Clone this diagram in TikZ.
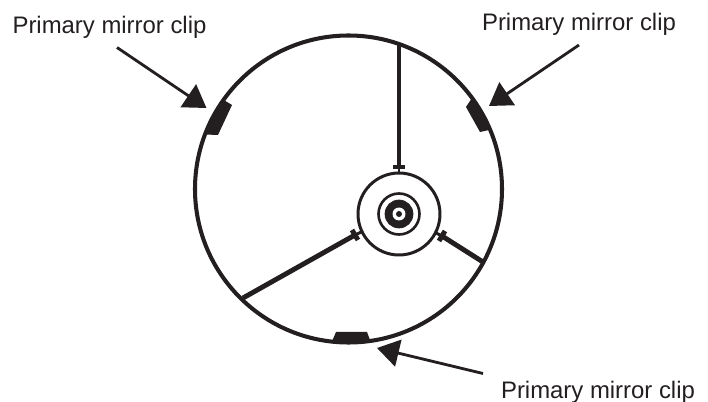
\documentclass[tikz,border=0pt]{standalone}
\usepackage{fontspec}
\setmainfont{Liberation Sans}
\usepackage{xcolor}
\usetikzlibrary{calc, positioning}
\usetikzlibrary{arrows.meta}
\definecolor{inkblack}{HTML}{231F20}
\begin{document}
\begin{tikzpicture}[x=0.02cm,y=-0.02cm,
  rimline/.style={line width=2.3pt, draw=inkblack},
  spokeline/.style={line width=2.8pt, draw=inkblack},
  neckline/.style={line width=1.7pt, draw=inkblack},
  tickline/.style={line width=2.8pt, draw=inkblack},
  clipfill/.style={fill=inkblack},
  cliplabel/.style={anchor=base, font=\fontsize{13.6pt}{16pt}\selectfont, text=inkblack, inner sep=0pt},
  cliparrow/.style={line width=1.6pt, draw=inkblack, -{Triangle[length=12.5pt,width=15.5pt,fill=inkblack]}},
  hubdisc/.style={circle, draw=inkblack, inner sep=0pt, outer sep=0pt}]
\def\rimR{153.5}
\useasboundingbox (0,0) rectangle (708,402);

\coordinate (rimc) at (348.5,189);
\coordinate (hubc) at (399,214);

% Mirror rim
\draw[rimline] (rimc) circle[radius=\rimR];

% Three clips on the rim
\fill[clipfill] ([shift={(rimc)}]215.5:\rimR) arc[start angle=215.5,end angle=200.8,radius=\rimR]
  -- (218,135) -- (232,105) -- cycle;
\fill[clipfill] ([shift={(rimc)}]-36.4:\rimR) arc[start angle=-36.4,end angle=-22.7,radius=\rimR]
  -- (480,132) -- (466,107) -- cycle;
\fill[clipfill] ([shift={(rimc)}]81.8:\rimR) arc[start angle=81.8,end angle=96.2,radius=\rimR]
  -- (336,332) -- (367,332) -- cycle;

% Hub
\node[hubdisc, line width=1.7pt, fill=white, minimum size=1.64cm] (hub) at (hubc) {};
\node[hubdisc, line width=1.5pt, minimum size=0.82cm] (hubring) at (hubc) {};
\node[hubdisc, fill=inkblack, minimum size=0.56cm] (hubdark) at (hubc) {};
\node[hubdisc, draw=none, fill=white, minimum size=0.26cm] (hubhole) at (hubc) {};
\node[hubdisc, draw=none, fill=inkblack, minimum size=0.12cm] (hubdot) at (hubc) {};

% Spokes
\coordinate (tipT) at (399,167);
\coordinate (tipR) at (442,236);
\coordinate (tipL) at (355,235);
\coordinate (endT) at (399,43);
\coordinate (endR) at (483,262);
\coordinate (endL) at (243,298);
\draw[spokeline] (endT) -- (tipT);
\draw[spokeline] (endR) -- (tipR);
\draw[spokeline] (endL) -- (tipL);
\draw[neckline] (tipT) -- (hub);
\draw[neckline] (tipR) -- (hub);
\draw[neckline] (tipL) -- (hub);
\draw[tickline] (393,167) -- (405,167);
\draw[tickline] (439,241) -- (445,231);
\draw[tickline] (352,230) -- (358,240);

% Labels
\node[cliplabel] (labelL) at (109.5,33.5) {Primary mirror clip};
\node[cliplabel] (labelR) at (579,31) {Primary mirror clip};
\node[cliplabel] (labelB) at (598,399) {Primary mirror clip};

% Arrows
\coordinate (startL) at (117,47.5);
\coordinate (headL) at (206.5,108);
\coordinate (startR) at (579,45);
\coordinate (headR) at (489,106);
\coordinate (startB) at (483,373.5);
\coordinate (headB) at (377,348);
\draw[cliparrow] (startL) -- (headL);
\draw[cliparrow] (startR) -- (headR);
\draw[cliparrow] (startB) -- (headB);
\end{tikzpicture}
\end{document}
